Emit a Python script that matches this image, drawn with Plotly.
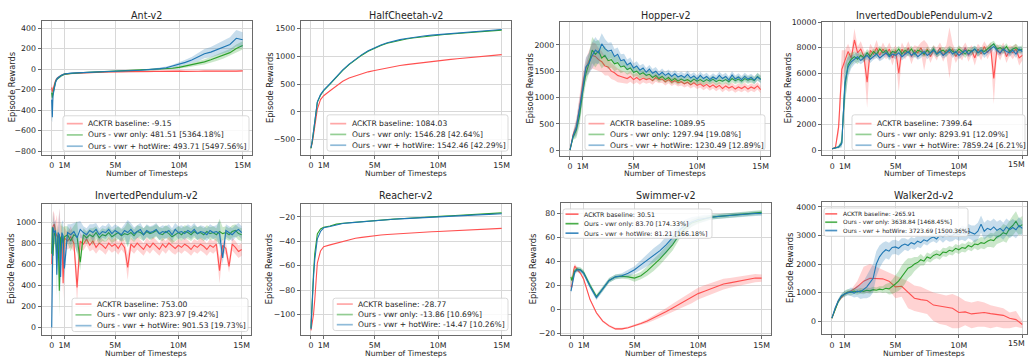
import plotly.graph_objects as go

W, H = 1029, 362

# ---------------- time grids (millions of timesteps) ----------------
COARSE_T = [0, 0.05, 0.1, 0.2, 0.3, 0.4, 0.5, 0.75,
            1, 1.5, 2, 2.5, 3, 3.5, 4, 4.5,
            5, 5.5, 6, 6.5, 7, 7.5, 8, 8.5,
            9, 9.5, 10, 10.5, 11, 11.5, 12, 12.5,
            13, 13.5, 14, 14.5, 15]
FINE_T = [0, 0.25, 0.5, 0.75, 1, 1.25, 1.5, 1.75, 2, 2.25, 2.5, 2.75,
          3, 3.25, 3.5, 3.75, 4, 4.25, 4.5, 4.75, 5, 5.25, 5.5, 5.75,
          6, 6.25, 6.5, 6.75, 7, 7.25, 7.5, 7.75, 8, 8.25, 8.5, 8.75,
          9, 9.25, 9.5, 9.75, 10, 10.25, 10.5, 10.75, 11, 11.25, 11.5, 11.75,
          12, 12.25, 12.5, 12.75, 13, 13.25, 13.5, 13.75, 14, 14.25, 14.5, 14.75, 15]
IP_T = [0, 0.05, 0.1, 0.2, 0.3, 0.4, 0.5, 0.6, 0.7, 0.8, 0.9, 1.0,
        1.25, 1.5, 1.75,
        2, 2.25, 2.5, 2.75, 3, 3.25, 3.5, 3.75, 4, 4.25, 4.5, 4.75,
        5, 5.25, 5.5, 5.75, 6, 6.25, 6.5, 6.75, 7, 7.25, 7.5, 7.75,
        8, 8.25, 8.5, 8.75, 9, 9.25, 9.5, 9.75, 10, 10.25, 10.5, 10.75,
        11, 11.25, 11.5, 11.75, 12, 12.25, 12.5, 12.75, 13, 13.25, 13.5, 13.75,
        14, 14.25, 14.5, 14.75, 15]
WALK_RED_T = [0, 0.5, 1, 1.5, 2, 2.5, 3, 3.5, 4, 4.5, 5, 5.5, 6, 6.5, 7, 7.5,
              8, 8.5, 9, 9.5, 10, 10.5, 11, 11.5, 12, 12.5, 13, 13.5, 14, 14.5, 15]

X_TICKS = [0, 1, 5, 10, 15]
X_TICK_TEXT = ["0", "1M", "5M", "10M", "15M"]

Y_TICKS = {
    "Ant-v2": [-800, -600, -400, -200, 0, 200, 400],
    "HalfCheetah-v2": [-500, 0, 500, 1000, 1500],
    "Hopper-v2": [0, 500, 1000, 1500, 2000],
    "InvertedDoublePendulum-v2": [0, 2000, 4000, 6000, 8000, 10000],
    "InvertedPendulum-v2": [0, 200, 400, 600, 800, 1000],
    "Reacher-v2": [-100, -80, -60, -40, -20],
    "Swimmer-v2": [-20, 0, 20, 40, 60, 80],
    "Walker2d-v2": [0, 1000, 2000, 3000, 4000],
}

# ---------------- Ant-v2 (COARSE_T) ----------------
ANT_BASE = [-180, -220, -200, -150, -115, -95, -82, -62,
            -50, -43, -39, -36, -34, -31, -30, -28,
            -27, -29, -24, -27, -23, -26, -22, -25,
            -21, -24, -20, -23, -19, -22, -20, -21,
            -18, -21, -19, -20, -18]
ANT_VWR = [-230, -280, -240, -170, -125, -100, -88, -66,
           -50, -42, -38, -34, -31, -29, -27, -25,
           -22, -20, -18, -16, -14, -11, -8, -4,
           0, 8, 16, 28, 40, 55, 70, 90,
           112, 135, 160, 200, 230]
ANT_HOT = [-300, -470, -260, -180, -130, -100, -85, -62,
           -48, -40, -36, -33, -30, -28, -26, -24,
           -20, -18, -16, -14, -12, -8, -3, 4,
           12, 28, 45, 65, 88, 115, 150, 165,
           190, 215, 240, 300, 285]
ANT_BASE_SD = [40, 40, 30, 20, 15, 10, 8, 8,
               6, 6, 6, 6, 6, 6, 6, 6,
               6, 6, 6, 6, 6, 6, 6, 6,
               6, 6, 6, 6, 6, 6, 6, 6,
               6, 6, 6, 6, 6]
ANT_VWR_SD = [60, 40, 40, 30, 20, 15, 12, 10,
              8, 6, 5, 5, 5, 5, 5, 5,
              5, 5, 5, 5, 5, 5, 6, 7,
              8, 10, 12, 15, 18, 20, 25, 28,
              30, 33, 35, 40, 40]
ANT_HOT_SD = [200, 50, 60, 40, 30, 20, 15, 10,
              8, 6, 5, 5, 5, 5, 5, 5,
              5, 5, 5, 5, 5, 6, 8, 10,
              12, 15, 20, 25, 30, 38, 45, 50,
              55, 60, 70, 80, 75]

# ---------------- HalfCheetah-v2 (COARSE_T) ----------------
HC_BASE = [-650, -620, -560, -420, -250, -80, 50, 220,
           290, 380, 470, 550, 610, 650, 690, 720,
           745, 770, 795, 815, 835, 850, 865, 880,
           895, 910, 925, 935, 945, 955, 965, 975,
           985, 995, 1005, 1015, 1030]
HC_VWR = [-660, -610, -530, -360, -160, 40, 170, 300,
          380, 500, 630, 745, 850, 940, 1020, 1090,
          1150, 1195, 1235, 1265, 1290, 1312, 1330, 1345,
          1360, 1372, 1383, 1392, 1400, 1408, 1418, 1428,
          1436, 1445, 1452, 1460, 1470]
HC_HOT = [-650, -600, -520, -350, -150, 50, 180, 310,
          390, 510, 640, 755, 860, 950, 1030, 1100,
          1160, 1205, 1245, 1275, 1300, 1320, 1340, 1355,
          1370, 1380, 1390, 1398, 1408, 1415, 1425, 1435,
          1445, 1455, 1465, 1472, 1482]

# ---------------- Hopper-v2 (FINE_T) ----------------
HOP_BASE = [0, 300, 450, 800, 1250, 1550, 1700, 1800,
            1780, 1720, 1680, 1600, 1580, 1500, 1470, 1420,
            1400, 1380, 1360, 1400, 1340, 1380, 1330, 1370,
            1340, 1360, 1320, 1380, 1340, 1350, 1300, 1340,
            1290, 1320, 1280, 1300, 1260, 1290, 1240, 1280,
            1230, 1260, 1210, 1250, 1200, 1240, 1190, 1230,
            1170, 1220, 1180, 1210, 1160, 1200, 1170, 1210,
            1160, 1200, 1170, 1220, 1150]
HOP_VWR = [0, 250, 380, 650, 1100, 1450, 1650, 1900,
           1820, 1880, 1750, 1800, 1700, 1720, 1640, 1660,
           1580, 1600, 1530, 1560, 1480, 1500, 1440, 1470,
           1420, 1440, 1380, 1420, 1360, 1400, 1340, 1380,
           1320, 1360, 1310, 1350, 1320, 1340, 1300, 1350,
           1310, 1340, 1300, 1340, 1310, 1350, 1300, 1330,
           1310, 1340, 1300, 1360, 1320, 1350, 1310, 1360,
           1330, 1350, 1320, 1400, 1350]
HOP_HOT = [0, 280, 420, 750, 1150, 1580, 1650, 1800,
           1900, 1850, 2020, 1930, 1880, 1900, 1780, 1820,
           1700, 1720, 1620, 1660, 1560, 1600, 1520, 1560,
           1480, 1540, 1460, 1500, 1430, 1480, 1420, 1460,
           1400, 1450, 1390, 1420, 1380, 1440, 1370, 1410,
           1350, 1420, 1360, 1400, 1340, 1390, 1350, 1420,
           1360, 1400, 1330, 1430, 1350, 1390, 1340, 1400,
           1350, 1380, 1330, 1390, 1340]
HOP_SD = [0, 60, 150, 200, 200, 180, 200, 250,
          250, 220, 200, 180, 160, 150, 140, 130,
          120, 110, 100, 100, 90, 90, 90, 80,
          80, 80, 80, 80, 70, 70, 70, 70,
          70, 70, 70, 70, 70, 70, 70, 70,
          70, 70, 70, 70, 70, 70, 70, 70,
          70, 70, 70, 70, 70, 70, 70, 70,
          70, 70, 70, 70, 70]

# ---------------- InvertedDoublePendulum-v2 (FINE_T) ----------------
IDP_BASE = [100, 200, 1800, 6300, 7000, 7700, 7200, 8600,
            7600, 7900, 7300, 5300, 7800, 7500, 8000, 7400,
            7900, 7500, 7900, 7200, 7800, 6000, 7900, 7500,
            8000, 7300, 7800, 7600, 8000, 7400, 7900, 7300,
            7800, 7500, 8000, 7400, 7800, 7600, 7900, 7300,
            7700, 7500, 8000, 7400, 7800, 7200, 7900, 7500,
            8100, 7600, 8000, 5600, 7900, 7500, 8000, 7300,
            7800, 7600, 7900, 7200, 7400]
IDP_VWR = [100, 200, 250, 600, 5000, 6700, 7100, 7300,
           7100, 7400, 7200, 7600, 7300, 7700, 7500, 7900,
           7600, 7800, 7400, 7700, 7600, 7900, 7500, 7800,
           7600, 7900, 7500, 7800, 7700, 7500, 7800, 7600,
           7900, 7500, 7700, 7800, 7600, 7900, 7700, 7600,
           7900, 7700, 7500, 7800, 7700, 7900, 7600, 7800,
           7700, 7900, 8100, 8300, 7900, 8000, 7800, 8100,
           7700, 7900, 8000, 7800, 7900]
IDP_HOT = [100, 180, 250, 500, 5300, 6500, 6900, 7100,
           7300, 7000, 7200, 7400, 7100, 7300, 7500, 7200,
           7400, 7600, 7300, 7500, 7400, 7600, 7300, 7500,
           7700, 7400, 7600, 7300, 7500, 7700, 7400, 7600,
           7800, 7500, 7700, 7400, 7600, 7800, 7500, 7700,
           7400, 7600, 7800, 7500, 7700, 7900, 7600, 7800,
           7500, 7700, 7900, 8100, 7800, 7600, 7900, 7700,
           7600, 7800, 7500, 7900, 7700]
IDP_BASE_SD = [50, 100, 600, 1500, 800, 600, 500, 900,
               500, 600, 500, 2000, 500, 400, 600, 400,
               500, 400, 500, 600, 400, 1500, 500, 400,
               500, 600, 400, 500, 400, 1200, 400, 500,
               400, 500, 400, 500, 400, 2000, 400, 500,
               400, 500, 400, 500, 400, 600, 400, 500,
               400, 500, 400, 2000, 400, 500, 400, 500,
               400, 500, 400, 600, 400]
IDP_OURS_SD = [50, 50, 100, 300, 1500, 800, 500, 400,
               400, 300, 300, 300, 300, 250, 300, 250,
               300, 250, 300, 250, 300, 250, 300, 250,
               300, 250, 300, 250, 300, 250, 300, 250,
               300, 250, 300, 250, 300, 250, 300, 250,
               300, 250, 300, 250, 300, 250, 300, 250,
               300, 250, 300, 250, 300, 250, 300, 250,
               300, 250, 300, 250, 300]

# ---------------- InvertedPendulum-v2 (IP_T) ----------------
IP_BASE = [600, 900, 960, 980, 900, 870, 850, 880, 820, 860, 420, 850,
           820, 860, 800,
           380, 820, 790, 840, 780, 820, 760, 800, 780, 750, 800, 770,
           790, 750, 800, 760, 570, 790, 760, 800, 770, 740, 790, 760,
           800, 770, 740, 790, 760, 800, 770, 750, 780, 760, 790, 770,
           740, 780, 760, 790, 770, 740, 780, 760, 790, 540, 780, 750,
           580, 790, 760, 720, 740]
IP_VWR = [700, 950, 680, 900, 870, 700, 880, 350, 850, 870, 800, 860,
          880, 820, 880,
          860, 620, 880, 850, 880, 860, 900, 850, 880, 870, 900, 860,
          880, 900, 870, 890, 880, 900, 870, 910, 900, 880, 910, 890,
          900, 920, 890, 880, 910, 890, 860, 880, 900, 880, 910, 900,
          880, 910, 890, 900, 880, 910, 890, 900, 880, 910, 890, 900,
          880, 910, 920, 890, 880]
IP_HOT = [0, 600, 950, 900, 920, 500, 900, 880, 480, 900, 870, 560,
          900, 880, 910,
          850, 930, 900, 880, 920, 900, 930, 880, 910, 900, 930, 890,
          920, 900, 880, 920, 900, 930, 890, 910, 930, 880, 920, 900,
          910, 930, 890, 910, 900, 920, 880, 930, 900, 910, 890, 920,
          900, 930, 890, 910, 900, 880, 920, 900, 910, 890, 660, 920,
          900, 880, 910, 930, 900]
IP_SD = [0, 150, 150, 100, 100, 200, 100, 250, 150, 100, 150, 100,
         80, 100, 80,
         150, 80, 60, 60, 60, 80, 60, 60, 60, 60, 60, 60,
         60, 60, 60, 60, 120, 60, 60, 60, 60, 60, 60, 60,
         60, 60, 60, 60, 60, 60, 60, 60, 60, 60, 60, 60,
         60, 60, 60, 60, 60, 60, 60, 60, 60, 120, 60, 60,
         60, 60, 60, 60, 60]

# ---------------- Reacher-v2 (COARSE_T) ----------------
REA_BASE = [-113, -110, -106, -100, -88, -72, -58, -48,
            -44.5, -43, -41.5, -40, -38.5, -37.5, -36.8, -36,
            -35.3, -34.9, -34.5, -34.1, -33.8, -33.4, -33, -32.8,
            -32.5, -32.2, -32, -31.7, -31.4, -31.2, -31, -30.7,
            -30.4, -30.2, -30, -29.8, -29.5]
REA_VWR = [-111, -98, -85, -66, -50, -40, -34, -30,
           -28.5, -27.5, -26, -25.3, -24.8, -24.3, -23.8, -23.3,
           -22.9, -22.5, -22.2, -21.9, -21.6, -21.2, -20.8, -20.5,
           -20.2, -20, -19.8, -19.4, -19.1, -18.8, -18.4, -18.2,
           -17.9, -17.6, -17.3, -17, -16.8]
REA_HOT = [-112, -100, -88, -70, -55, -45, -38, -32,
           -29, -28, -26.5, -25.5, -25, -24.5, -24, -23.5,
           -23, -22.6, -22.3, -22, -21.7, -21.4, -21, -20.7,
           -20.4, -20.2, -20, -19.7, -19.4, -19.1, -18.8, -18.6,
           -18.4, -18.2, -18, -17.8, -17.5]

# ---------------- Swimmer-v2 (COARSE_T) ----------------
SWI_BASE = [20, 18, 22, 32, 36, 34, 33, 30,
            25, 8, -3, -10, -14, -16.5, -16.5, -15.5,
            -14, -12, -10, -7.5, -5, -2, 1, 4,
            7, 10, 13, 15, 17, 19, 21, 22,
            23, 24, 25, 26, 26]
SWI_VWR = [27, 24, 25, 30, 32, 33, 33.5, 33,
           30.5, 20, 10.5, 17, 24, 27, 27.5, 27,
           26, 28, 32, 37, 42, 48, 54, 62,
           68, 72, 74, 75.5, 77, 77.5, 78, 78.5,
           79, 79.5, 80, 80.5, 81]
SWI_HOT = [15, 18, 22, 28, 31, 32, 33, 32.5,
           30, 19, 9.5, 17, 24, 27, 28, 30,
           33, 37, 41, 45, 49, 54, 60, 66,
           70, 73, 75, 76, 77, 77.5, 78, 78.5,
           79, 79.5, 79.5, 80, 80]
SWI_BASE_SD = [2, 2, 3, 3, 2, 2, 2, 1,
               1, 1, 1, 1, 1, 1, 1, 1,
               1, 1, 1.5, 2, 2.5, 3, 3.5, 4,
               4.5, 5, 5, 5, 5, 4.5, 4.5, 4,
               4, 4, 3.5, 3.5, 3]
SWI_VWR_SD = [3, 3, 3, 3, 2, 2, 2, 2,
              2, 2, 2, 2, 2, 2, 2, 2,
              3, 3, 4, 5, 5, 5, 5, 4,
              4, 3, 3, 2, 2, 2, 2, 2,
              2, 2, 2, 2, 2]
SWI_HOT_SD = [2, 2, 3, 3, 2, 2, 2, 2,
              2, 2, 2, 2, 2, 2, 2, 3,
              3, 4, 5, 6, 6, 7, 6, 6,
              5, 4, 3, 3, 2, 2, 2, 2,
              2, 2, 2, 2, 2]

# ---------------- Walker2d-v2 ----------------
WAL_BASE = [100, 700, 950, 1050, 1200, 1400, 1500, 1500, 1480, 1400, 1200, 1220,
            1000, 800, 750, 720, 560, 520, 480, 450, 300, 320, 250, 280,
            300, 260, 230, 200, 100, 50, -120]
WAL_BASE_HI = [100, 750, 1000, 1100, 1400, 1900, 2000, 1900, 1800, 1700, 1600, 1500,
               1400, 1250, 1200, 1100, 1000, 950, 900, 950, 850, 700, 650, 700,
               650, 550, 500, 450, 300, 350, 0]
WAL_BASE_LO = [100, 650, 900, 1000, 1000, 1000, 1000, 1100, 1150, 1100, 800, 850,
               450, 350, 300, 250, 0, -100, -150, -250, -250, -150, -250, -200,
               -200, -250, -200, -250, -250, -200, -250]
WAL_VWR = [100, 420, 680, 870, 960, 1020, 1000, 1050,
           1020, 1060, 1040, 1080, 1060, 1100, 1080, 1120,
           1100, 1150, 1130, 1200, 1300, 1400, 1550, 1700,
           1850, 1900, 2000, 2050, 2150, 2100, 2250, 2200,
           2300, 2350, 2300, 2420, 2400, 2480, 2450, 2550,
           2500, 2580, 2550, 2650, 2600, 2700, 2680, 2750,
           2720, 2800, 2850, 2820, 2950, 3000, 3100, 3050,
           3250, 3350, 3500, 3300, 3380]
WAL_HOT = [100, 450, 700, 880, 950, 1000, 1030, 980,
           1050, 1020, 1100, 1200, 1350, 1500, 2000, 2250,
           2400, 2500, 2450, 2580, 2600, 2550, 2650, 2700,
           2650, 2750, 2700, 2800, 2750, 2850, 2800, 2900,
           2950, 2880, 3000, 2950, 3050, 2980, 3000, 3080,
           3020, 3100, 3050, 3150, 3100, 3050, 3150, 3400,
           3150, 3250, 3200, 3300, 3180, 3250, 3150, 3300,
           3200, 3280, 3200, 3350, 3250]
WAL_VWR_SD = [0, 50, 80, 80, 100, 100, 100, 100,
              100, 100, 100, 100, 100, 100, 100, 100,
              120, 150, 200, 250, 300, 350, 400, 400,
              350, 300, 250, 200, 200, 150, 150, 150,
              150, 150, 150, 150, 150, 150, 150, 150,
              150, 150, 150, 150, 150, 150, 200, 200,
              200, 200, 250, 250, 250, 250, 300, 300,
              300, 350, 350, 300, 300]
WAL_HOT_SD = [0, 50, 80, 80, 100, 100, 150, 150,
              200, 250, 300, 400, 500, 500, 450, 400,
              350, 300, 300, 250, 250, 250, 250, 200,
              200, 200, 200, 200, 200, 150, 150, 150,
              150, 150, 150, 200, 200, 200, 200, 200,
              200, 250, 250, 250, 250, 300, 300, 300,
              300, 300, 300, 300, 300, 300, 300, 300,
              300, 300, 300, 300, 250]

LABELS = {
    "Ant-v2": ["ACKTR baseline: -9.15", "Ours - vwr only: 481.51 [5364.18%]",
               "Ours - vwr + hotWire: 493.71 [5497.56%]"],
    "HalfCheetah-v2": ["ACKTR baseline: 1084.03", "Ours - vwr only: 1546.28 [42.64%]",
                       "Ours - vwr + hotWire: 1542.46 [42.29%]"],
    "Hopper-v2": ["ACKTR baseline: 1089.95", "Ours - vwr only: 1297.94 [19.08%]",
                  "Ours - vwr + hotWire: 1230.49 [12.89%]"],
    "InvertedDoublePendulum-v2": ["ACKTR baseline: 7399.64", "Ours - vwr only: 8293.91 [12.09%]",
                                  "Ours - vwr + hotWire: 7859.24 [6.21%]"],
    "InvertedPendulum-v2": ["ACKTR baseline: 753.00", "Ours - vwr only: 823.97 [9.42%]",
                            "Ours - vwr + hotWire: 901.53 [19.73%]"],
    "Reacher-v2": ["ACKTR baseline: -28.77", "Ours - vwr only: -13.86 [10.69%]",
                   "Ours - vwr + hotWire: -14.47 [10.26%]"],
    "Swimmer-v2": ["ACKTR baseline: 30.51", "Ours - vwr only: 83.70 [174.33%]",
                   "Ours - vwr + hotWire: 81.21 [166.18%]"],
    "Walker2d-v2": ["ACKTR baseline: -265.91", "Ours - vwr only: 3638.84 [1468.45%]",
                    "Ours - vwr + hotWire: 3723.69 [1500.36%]"],
}

# ---------------- style ----------------
FONT = "DejaVu Sans"
TXT = "#262626"
FRAME = "#6a6a6a"
GRID = "#d8d8d8"
COLORS = [(255, 80, 80), (44, 160, 44), (31, 119, 180)]
TICK_FS = 7.8


def rgba(c, a):
    return "rgba(%d,%d,%d,%.3f)" % (c[0], c[1], c[2], a)


def tick_text(v):
    s = "%g" % abs(v)
    return ("\u2212" + s) if v < 0 else s


# panel layout, all in pixels; edge=True -> last x tick label drawn as a text kept inside the page
PANELS = [
    dict(name="Ant-v2", xd=(41.5, 252.2), yd=(17.5, 153.5), yr=(-834, 467),
         xr=(-0.8, 15.75), ytx=-30, ty=11.5, xty=173, edge=False,
         leg=dict(box=(63, 114, 249, 150), rows=(122, 133.5, 145), tx=88.3, fs=7.6, sl=16, a=0.5)),
    dict(name="HalfCheetah-v2", xd=(300.8, 511.2), yd=(17.5, 154), yr=(-777, 1632),
         xr=(-0.8, 15.75), ytx=-31, ty=11.5, xty=173, edge=False,
         leg=dict(box=(327, 113, 508, 150), rows=(122, 133, 144), tx=351.7, fs=7.6, sl=16, a=0.5)),
    dict(name="Hopper-v2", xd=(559.8, 770.2), yd=(18.3, 154.5), yr=(-103, 2436),
         xr=(-0.8, 15.75), ytx=-30, ty=11.5, xty=173, edge=False,
         leg=dict(box=(585, 113, 765, 149), rows=(122, 133, 144), tx=610, fs=7.6, sl=16, a=0.5)),
    dict(name="InvertedDoublePendulum-v2", xd=(822, 1027), yd=(18.3, 154.3), yr=(-405, 10010),
         xr=(-0.81, 15.37), ytx=-34.5, ty=11.5, xty=173, edge=True,
         leg=dict(box=(852, 113, 1025, 149), rows=(122, 133, 144), tx=877, fs=7.6, sl=16, a=0.5)),
    dict(name="InvertedPendulum-v2", xd=(41.6, 251.2), yd=(203.7, 337.5), yr=(-70, 1173),
         xr=(-0.8, 15.75), ytx=-30, ty=195.5, xty=356.5, edge=False,
         leg=dict(box=(72, 300, 248, 334), rows=(306, 317, 328), tx=97, fs=7.6, sl=16, a=0.5)),
    dict(name="Reacher-v2", xd=(300.8, 511.2), yd=(203.7, 337.5), yr=(-116.8, -9.3),
         xr=(-0.8, 15.75), ytx=-31, ty=195.5, xty=356.5, edge=False,
         leg=dict(box=(333, 300, 508, 333), rows=(306, 316.7, 327), tx=358.3, fs=7.6, sl=16, a=0.5)),
    dict(name="Swimmer-v2", xd=(560.8, 771.2), yd=(202.7, 337.5), yr=(-21.6, 89),
         xr=(-0.8, 15.75), ytx=-27.5, ty=195.5, xty=356.5, edge=False,
         leg=dict(box=(563, 209, 712, 239), rows=(214.3, 224, 233.7), tx=584, fs=6.3, sl=13, a=0.85)),
    dict(name="Walker2d-v2", xd=(821.6, 1027), yd=(201.7, 336.7), yr=(-461, 4182),
         xr=(-0.81, 15.37), ytx=-31.5, ty=195.5, xty=356.5, edge=True,
         leg=dict(box=(824, 208, 968, 237), rows=(214, 222.5, 231), tx=842.7, fs=5.9, sl=12, a=0.8)),
]

# series per panel: (t, mean, band) where band is (lo, hi) or a half-width list or None
SERIES = {
    "Ant-v2": [(COARSE_T, ANT_BASE, ANT_BASE_SD), (COARSE_T, ANT_VWR, ANT_VWR_SD), (COARSE_T, ANT_HOT, ANT_HOT_SD)],
    "HalfCheetah-v2": [(COARSE_T, HC_BASE, None), (COARSE_T, HC_VWR, None), (COARSE_T, HC_HOT, None)],
    "Hopper-v2": [(FINE_T, HOP_BASE, HOP_SD), (FINE_T, HOP_VWR, HOP_SD), (FINE_T, HOP_HOT, HOP_SD)],
    "InvertedDoublePendulum-v2": [(FINE_T, IDP_BASE, IDP_BASE_SD), (FINE_T, IDP_VWR, IDP_OURS_SD),
                                  (FINE_T, IDP_HOT, IDP_OURS_SD)],
    "InvertedPendulum-v2": [(IP_T, IP_BASE, IP_SD), (IP_T, IP_VWR, IP_SD), (IP_T, IP_HOT, IP_SD)],
    "Reacher-v2": [(COARSE_T, REA_BASE, None), (COARSE_T, REA_VWR, None), (COARSE_T, REA_HOT, None)],
    "Swimmer-v2": [(COARSE_T, SWI_BASE, SWI_BASE_SD), (COARSE_T, SWI_VWR, SWI_VWR_SD),
                   (COARSE_T, SWI_HOT, SWI_HOT_SD)],
    "Walker2d-v2": [(WALK_RED_T, WAL_BASE, (WAL_BASE_LO, WAL_BASE_HI)), (FINE_T, WAL_VWR, WAL_VWR_SD),
                    (FINE_T, WAL_HOT, WAL_HOT_SD)],
}


def px(x):
    return x / W


def py(y):
    return 1 - y / H


fig = go.Figure()
layout = dict(width=W, height=H, autosize=False, margin=dict(l=0, r=0, t=0, b=0),
              paper_bgcolor="white", plot_bgcolor="white", showlegend=False,
              font=dict(family=FONT, color=TXT))
annotations = []
shapes = []

for k, P in enumerate(PANELS, start=1):
    sx = "" if k == 1 else str(k)
    xa, ya = "x" + sx, "y" + sx
    for ci, (t, m, band) in enumerate(SERIES[P["name"]]):
        col = COLORS[ci]
        if band is not None:
            if isinstance(band, tuple):
                lo, hi = band
            else:
                lo = [a - b for a, b in zip(m, band)]
                hi = [a + b for a, b in zip(m, band)]
            fig.add_trace(go.Scatter(x=list(t) + list(t)[::-1], y=list(hi) + list(lo)[::-1],
                                     fill="toself", fillcolor=rgba(col, 0.25), mode="lines",
                                     line=dict(width=0), xaxis=xa, yaxis=ya, hoverinfo="skip",
                                     showlegend=False))
        fig.add_trace(go.Scatter(x=t, y=m, mode="lines", line=dict(color=rgba(col, 1.0), width=1.1),
                                 xaxis=xa, yaxis=ya, hoverinfo="skip", showlegend=False))

    xd = [px(P["xd"][0]), min(1.0, px(P["xd"][1]))]
    yd = [py(P["yd"][1]), py(P["yd"][0])]
    common = dict(showgrid=True, gridcolor=GRID, gridwidth=1, zeroline=False, showline=True,
                  mirror=True, linecolor=FRAME, linewidth=1, ticks="outside", ticklen=3,
                  tickwidth=1, tickcolor=FRAME, ticklabeloverflow="allow",
                  tickfont=dict(family=FONT, size=TICK_FS, color=TXT))
    yt = Y_TICKS[P["name"]]
    xtt = list(X_TICK_TEXT)
    if P["edge"]:
        xtt[-1] = ""
        annotations.append(dict(text=X_TICK_TEXT[-1], x=px(1025), xref="paper",
                                y=py(P["yd"][1] + 9.0), yref="paper", showarrow=False,
                                xanchor="right", yanchor="middle", borderpad=0, borderwidth=0,
                                font=dict(family=FONT, size=TICK_FS, color=TXT)))
    layout["xaxis" + sx] = dict(domain=xd, range=list(P["xr"]), anchor=ya, tickmode="array",
                                tickvals=X_TICKS, ticktext=xtt, **common)
    layout["yaxis" + sx] = dict(domain=yd, range=list(P["yr"]), anchor=xa, tickmode="array",
                                tickvals=yt, ticktext=[tick_text(v) for v in yt], **common)

    cx = (P["xd"][0] + min(W, P["xd"][1])) / 2
    cy = (P["yd"][0] + P["yd"][1]) / 2
    annotations.append(dict(text=P["name"], x=px(cx), y=py(P["ty"]), xref="paper", yref="paper",
                            showarrow=False, xanchor="center", yanchor="middle",
                            font=dict(family=FONT, size=9.6, color=TXT)))
    annotations.append(dict(text="Number of Timesteps", x=px(cx), y=py(P["xty"]), xref="paper",
                            yref="paper", showarrow=False, xanchor="center", yanchor="middle",
                            borderpad=0, font=dict(family=FONT, size=7.6, color=TXT)))
    annotations.append(dict(text="Episode Rewards", x=px(P["xd"][0] + P["ytx"]), y=py(cy),
                            xref="paper", yref="paper", showarrow=False, textangle=-90,
                            xanchor="center", yanchor="middle",
                            font=dict(family=FONT, size=8.3, color=TXT)))

    # legend box
    L = P["leg"]
    x0, y0, x1, y1 = L["box"]
    r = 2.5
    rx, ry = r / W, r / H
    X0, X1, Y0, Y1 = px(x0), px(x1), py(y0), py(y1)
    path = ("M %f,%f L %f,%f Q %f,%f %f,%f L %f,%f Q %f,%f %f,%f L %f,%f Q %f,%f %f,%f L %f,%f Q %f,%f %f,%f Z" % (
        X0 + rx, Y0, X1 - rx, Y0, X1, Y0, X1, Y0 - ry, X1, Y1 + ry, X1, Y1, X1 - rx, Y1,
        X0 + rx, Y1, X0, Y1, X0, Y1 + ry, X0, Y0 - ry, X0, Y0, X0 + rx, Y0))
    shapes.append(dict(type="path", path=path, xref="paper", yref="paper",
                       fillcolor="rgba(255,255,255,0.85)", line=dict(color="#cfcfcf", width=0.8),
                       layer="above"))
    for ci, (lab, ry_) in enumerate(zip(LABELS[P["name"]], L["rows"])):
        sx1 = L["tx"] - 5.5
        sx0 = sx1 - L["sl"]
        shapes.append(dict(type="line", xref="paper", yref="paper", x0=px(sx0), x1=px(sx1),
                           y0=py(ry_), y1=py(ry_), line=dict(color=rgba(COLORS[ci], L["a"]), width=1.7),
                           layer="above"))
        annotations.append(dict(text=lab, x=px(L["tx"] - 1), y=py(ry_), xref="paper", yref="paper",
                                showarrow=False, xanchor="left", yanchor="middle", borderpad=0,
                                font=dict(family=FONT, size=L["fs"], color=TXT)))

layout["annotations"] = annotations
layout["shapes"] = shapes
fig.update_layout(**layout)
fig.write_html("out.html")
